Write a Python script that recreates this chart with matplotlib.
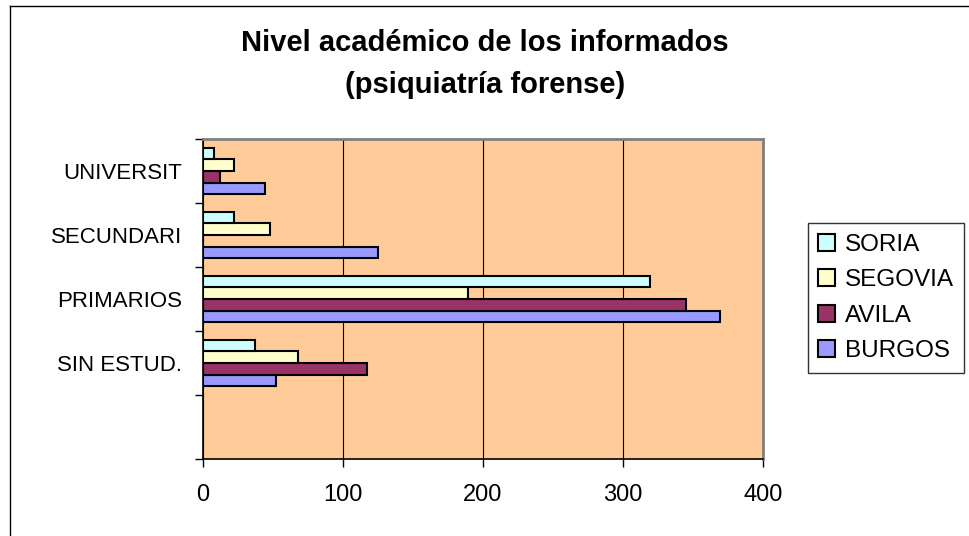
import matplotlib
matplotlib.use('Agg')
import matplotlib.pyplot as plt
import numpy as np
from matplotlib.lines import Line2D
from matplotlib.patches import Patch

plt.rcParams['font.family'] = ['Liberation Sans', 'DejaVu Sans']

# data (bottom slot is an empty category)
categories = ['', 'SIN ESTUD.', 'PRIMARIOS', 'SECUNDARI', 'UNIVERSIT']
burgos = [0, 52, 369, 125, 44]
avila = [0, 117, 345, 0, 12]
segovia = [0, 68, 189, 48, 22]
soria = [0, 37, 319, 22, 8]
series_names = ['BURGOS', 'AVILA', 'SEGOVIA', 'SORIA']
series_vals = [burgos, avila, segovia, soria]
colors = ['#9999FF', '#993366', '#FFFFCC', '#CCFFFF']
x_ticks = [0, 100, 200, 300, 400]

W, H = 970, 536
fig = plt.figure(figsize=(W / 100, H / 100), dpi=100)
ax = fig.add_axes([203 / W, 1 - 459 / H, 560 / W, 320 / H])

ax.set_facecolor('#FFCC99')
ax.set_xlim(0, 400)
ax.set_ylim(-0.5, len(categories) - 0.5)

# Excel style: gap width 150%
bw = 1 / (len(series_names) + 1.5)
y = np.arange(len(categories))
for i, (vals, col) in enumerate(zip(series_vals, colors)):
    off = (i - (len(series_names) - 1) / 2) * bw
    ax.barh(y + off, vals, height=bw, color=col, edgecolor='black',
            linewidth=1.5, zorder=3)

ax.set_xticks(x_ticks)
ax.set_xticklabels([str(v) for v in x_ticks])
ax.set_yticks(np.arange(-0.5, len(categories), 1))
ax.set_yticklabels([])
ax.set_yticks(y, minor=True)
ax.set_yticklabels(categories, minor=True)
ax.tick_params(axis='y', which='minor', length=0, pad=15, labelsize=16)
ax.tick_params(axis='y', which='major', length=6, width=1, direction='out')
ax.tick_params(axis='x', length=6, width=1, direction='out', pad=12, labelsize=17)

ax.grid(axis='x', color='black', linewidth=0.8, zorder=1)
ax.set_axisbelow(True)

for s in ['top', 'right']:
    ax.spines[s].set_color('#808080')
    ax.spines[s].set_linewidth(2)
for s in ['left', 'bottom']:
    ax.spines[s].set_color('black')
    ax.spines[s].set_linewidth(1.2)

fig.text(0.5, 1 - 43 / H, 'Nivel académico de los informados', ha='center',
         va='center', fontsize=21, fontweight='bold')
fig.text(0.5, 1 - 85 / H, '(psiquiatría forense)', ha='center',
         va='center', fontsize=21, fontweight='bold')

handles = [Patch(facecolor=c, edgecolor='black', linewidth=1.5) for c in colors][::-1]
leg = fig.legend(handles, series_names[::-1], loc='center left',
                 bbox_to_anchor=(808 / W, 1 - 298 / H), frameon=True,
                 fancybox=False, edgecolor='black', fontsize=17.5,
                 handlelength=0.7, handleheight=0.7, handletextpad=0.4,
                 labelspacing=0.56, borderpad=0.42, borderaxespad=0)
leg.get_frame().set_linewidth(1)

# chart area border (runs off the right and bottom of the picture)
fig.add_artist(Line2D([10 / W, 10 / W], [0, 1 - 6 / H], color='black', linewidth=1))
fig.add_artist(Line2D([10 / W, 1], [1 - 6 / H, 1 - 6 / H], color='black', linewidth=1))

fig.savefig('out.png', dpi=100)
